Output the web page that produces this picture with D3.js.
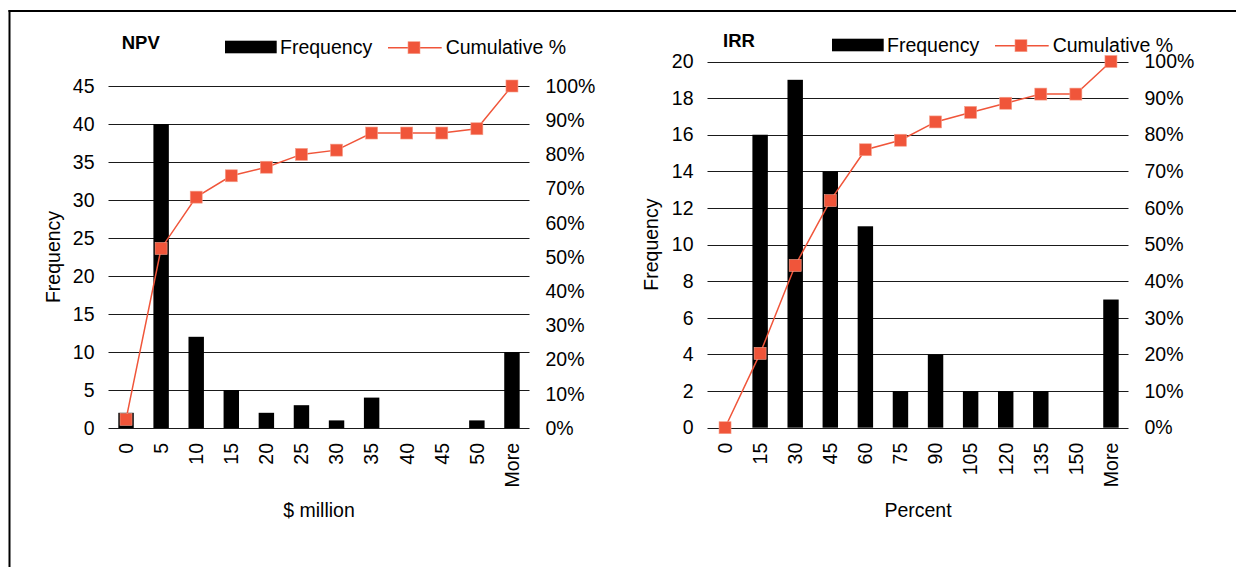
<!DOCTYPE html>
<html>
<head>
<meta charset="utf-8">
<script src="https://cdn.jsdelivr.net/npm/d3@7"></script>
<style>
  html, body { margin: 0; padding: 0; background: #fff; }
  svg { display: block; }
  text { font-family: "Liberation Sans", Arial, sans-serif; fill: #000; }
</style>
</head>
<body>
<svg id="chart" width="1236" height="567"></svg>
<script>
// NPV histogram ($ million bins)
const npvBins = ["0", "5", "10", "15", "20", "25", "30", "35", "40", "45", "50", "More"];
const npvFrequency = [2, 40, 12, 5, 2, 3, 1, 4, 0, 0, 1, 10];
const npvCumulative = [2.5, 52.5, 67.5, 73.75, 76.25, 80, 81.25, 86.25, 86.25, 86.25, 87.5, 100];
const npvFreqTicks = [0, 5, 10, 15, 20, 25, 30, 35, 40, 45];

// IRR histogram (percent bins)
const irrBins = ["0", "15", "30", "45", "60", "75", "90", "105", "120", "135", "150", "More"];
const irrFrequency = [0, 16, 19, 14, 11, 2, 4, 2, 2, 2, 0, 7];
const irrCumulative = [0, 20.3, 44.3, 62.0, 75.9, 78.5, 83.5, 86.1, 88.6, 91.1, 91.1, 100];
const irrFreqTicks = [0, 2, 4, 6, 8, 10, 12, 14, 16, 18, 20];

const pctTicks = [0, 10, 20, 30, 40, 50, 60, 70, 80, 90, 100];

const svg = d3.select("#chart");
const FONT = 19.5;
const RED = "#F0553A";

// outer frame (top and left edges)
svg.append("line").attr("x1", 8.5).attr("x2", 1236).attr("y1", 11).attr("y2", 11)
  .attr("stroke", "#000").attr("stroke-width", 2);
svg.append("line").attr("x1", 9.5).attr("x2", 9.5).attr("y1", 10).attr("y2", 567)
  .attr("stroke", "#000").attr("stroke-width", 2);

function panel(cfg) {
  const g = svg.append("g");
  const x = d3.scaleBand().domain(cfg.bins).range([cfg.x0, cfg.x1]).paddingInner(0.56).paddingOuter(0.28);
  const yF = d3.scaleLinear().domain([0, cfg.freqMax]).range([cfg.yBottom, cfg.yTop]);
  const yP = d3.scaleLinear().domain([0, 100]).range([cfg.yBottom, cfg.yTop]);

  // horizontal gridlines
  g.append("g").selectAll("line").data(cfg.freqTicks).join("line")
    .attr("x1", cfg.x0).attr("x2", cfg.x1)
    .attr("y1", d => Math.round(yF(d)) + 0.5).attr("y2", d => Math.round(yF(d)) + 0.5)
    .attr("stroke", "#1a1a1a").attr("stroke-width", 1);

  // left axis (frequency)
  const left = g.append("g").attr("transform", `translate(${cfg.x0},0)`)
    .call(d3.axisLeft(yF).tickValues(cfg.freqTicks).tickSize(0).tickPadding(14).tickFormat(d3.format("d")));
  left.select(".domain").remove();
  left.selectAll("text").style("font-size", FONT + "px").style("font-family", "Liberation Sans, Arial, sans-serif");

  // right axis (cumulative percent)
  const right = g.append("g").attr("transform", `translate(${cfg.x1},0)`)
    .call(d3.axisRight(yP).tickValues(pctTicks).tickSize(0).tickPadding(16).tickFormat(d => d + "%"));
  right.select(".domain").remove();
  right.selectAll("text").style("font-size", FONT + "px").style("font-family", "Liberation Sans, Arial, sans-serif");

  // bars
  g.append("g").selectAll("rect").data(cfg.freq).join("rect")
    .attr("x", (d, i) => x(cfg.bins[i]))
    .attr("width", x.bandwidth())
    .attr("y", d => yF(d))
    .attr("height", d => yF(0) - yF(d))
    .attr("fill", "#000");

  // bin labels, rotated
  g.append("g").selectAll("text").data(cfg.bins).join("text")
    .attr("transform", d => `translate(${x(d) + x.bandwidth() / 2},${cfg.yBottom + 15}) rotate(-90)`)
    .attr("text-anchor", "end").attr("dy", "0.35em")
    .style("font-size", FONT + "px")
    .text(d => d);

  // cumulative line and markers
  const pts = cfg.cum.map((v, i) => [x(cfg.bins[i]) + x.bandwidth() / 2, yP(v)]);
  g.append("path").attr("d", d3.line()(pts))
    .attr("fill", "none").attr("stroke", RED).attr("stroke-width", 1.5);
  g.append("g").selectAll("rect").data(pts).join("rect")
    .attr("x", d => d[0] - 6).attr("y", d => d[1] - 6)
    .attr("width", 12).attr("height", 12)
    .attr("fill", RED).attr("stroke", "#f6a08c").attr("stroke-width", 0.6);

  // axis titles
  g.append("text")
    .attr("transform", `translate(${cfg.yTitleX},${(cfg.yTop + cfg.yBottom) / 2}) rotate(-90)`)
    .attr("text-anchor", "middle").attr("dy", "0.35em")
    .style("font-size", FONT + "px").text("Frequency");
  g.append("text")
    .attr("x", (cfg.x0 + cfg.x1) / 2).attr("y", 517)
    .attr("text-anchor", "middle")
    .style("font-size", FONT + "px").text(cfg.xTitle);

  // chart title
  g.append("text").attr("x", cfg.titleX).attr("y", cfg.legendY - 5)
    .style("font-size", "18.5px").style("font-weight", "bold").text(cfg.title);

  // legend
  const lx = cfg.legendX, ly = cfg.legendY;
  g.append("rect").attr("x", lx).attr("y", ly - 13.3).attr("width", 51.7).attr("height", 12.6).attr("fill", "#000");
  g.append("text").attr("x", lx + 55).attr("y", ly).style("font-size", FONT + "px").text("Frequency");
  g.append("line").attr("x1", lx + 163).attr("x2", lx + 216.7).attr("y1", ly - 6.3).attr("y2", ly - 6.3)
    .attr("stroke", RED).attr("stroke-width", 1.5);
  g.append("rect").attr("x", lx + 183).attr("y", ly - 12.3).attr("width", 12).attr("height", 12)
    .attr("fill", RED).attr("stroke", "#f6a08c").attr("stroke-width", 0.6);
  g.append("text").attr("x", lx + 220.7).attr("y", ly).style("font-size", FONT + "px").text("Cumulative %");
}

panel({
  bins: npvBins, freq: npvFrequency, cum: npvCumulative, freqTicks: npvFreqTicks, freqMax: 45,
  x0: 108.5, x1: 529.5, yTop: 86, yBottom: 428,
  yTitleX: 53, xTitle: "$ million", title: "NPV", titleX: 121.7, legendX: 225, legendY: 54
});

panel({
  bins: irrBins, freq: irrFrequency, cum: irrCumulative, freqTicks: irrFreqTicks, freqMax: 20,
  x0: 707.5, x1: 1128.5, yTop: 61.5, yBottom: 427.7,
  yTitleX: 651, xTitle: "Percent", title: "IRR", titleX: 723, legendX: 832, legendY: 52
});
</script>
</body>
</html>
